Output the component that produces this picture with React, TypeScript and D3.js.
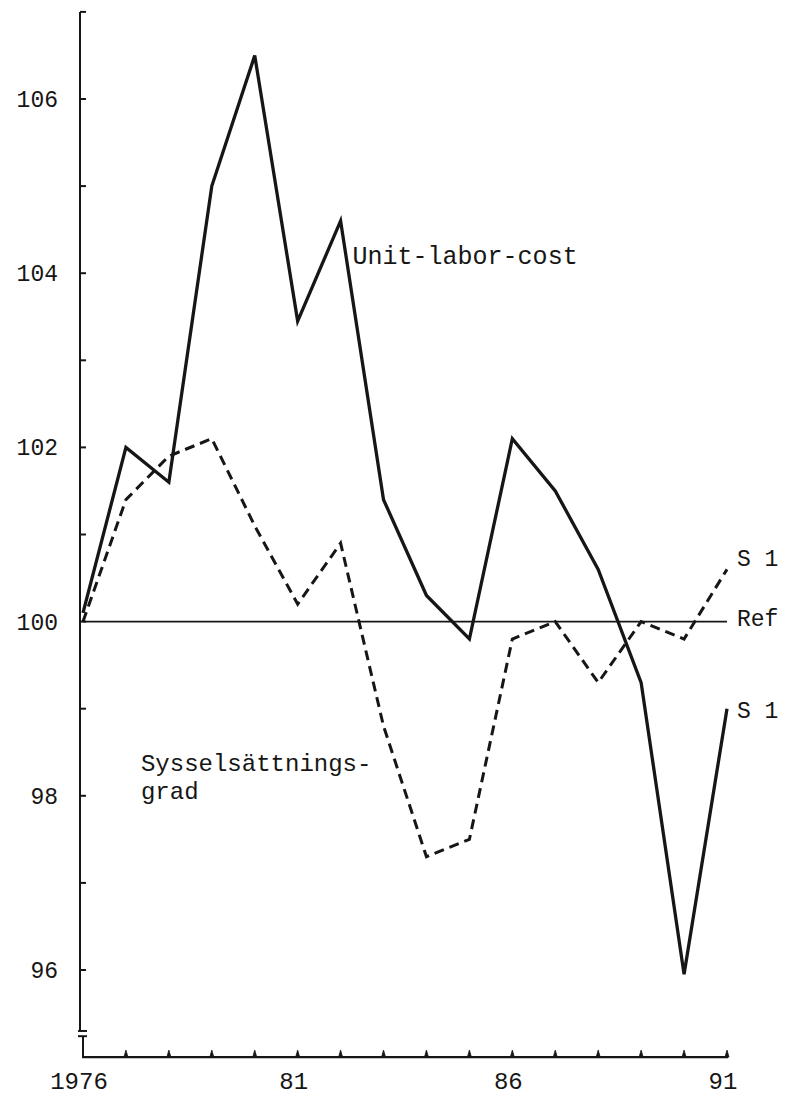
import React from "react";
import * as d3 from "d3";

const years = [1976, 1977, 1978, 1979, 1980, 1981, 1982, 1983, 1984, 1985, 1986, 1987, 1988, 1989, 1990, 1991];
const unitLaborCost = [100.1, 102.0, 101.6, 105.0, 106.5, 103.45, 104.6, 101.4, 100.3, 99.8, 102.1, 101.5, 100.6, 99.3, 95.95, 99.0];
const sysselsattningsgrad = [100.0, 101.4, 101.9, 102.1, 101.1, 100.2, 100.9, 98.8, 97.3, 97.5, 99.8, 100.0, 99.3, 100.0, 99.8, 100.6];
const yTickValues = [96, 97, 98, 99, 100, 101, 102, 103, 104, 105, 106, 107];
const yTickLabels = [96, 98, 100, 102, 104, 106];
const xTickLabels: [number, string][] = [[1976, "1976"], [1981, "81"], [1986, "86"], [1991, "91"]];

const W = 785;
const H = 1096;
const FONT = "'Liberation Mono', 'DejaVu Sans Mono', monospace";
const INK = "#161616";

export default function App() {
  const x = d3.scaleLinear().domain([1976, 1991]).range([83, 727]);
  const y = d3.scaleLinear().domain([96, 106]).range([970, 99]);

  const line = d3
    .line<number>()
    .x((_, i) => x(years[i]))
    .y((d) => y(d));

  const axisX = x(1976);
  const axisBottom = y(95.0);
  const breakTop = y(95.3);
  const breakBottom = y(95.24);

  return (
    <svg width={W} height={H} style={{ position: "absolute", left: 0, top: 0, background: "#fff" }}>
      <rect x={0} y={0} width={W} height={H} fill="#fff" />
      {/* Y axis with break */}
      <line x1={axisX - 3} y1={y(107)} x2={axisX - 3} y2={breakTop} stroke={INK} strokeWidth={2} />
      <line x1={axisX} y1={breakBottom} x2={axisX} y2={axisBottom} stroke={INK} strokeWidth={2} />
      <line x1={axisX - 5} y1={breakTop} x2={axisX + 4} y2={breakTop} stroke={INK} strokeWidth={2} />
      <line x1={axisX - 5} y1={breakBottom} x2={axisX + 4} y2={breakBottom} stroke={INK} strokeWidth={2} />
      {yTickValues.map((v) => (
        <line key={"yt" + v} x1={axisX - 3} y1={y(v)} x2={axisX + 3} y2={y(v)} stroke={INK} strokeWidth={2} />
      ))}
      {yTickLabels.map((v) => (
        <text key={"yl" + v} x={58} y={y(v)} dy="0.35em" textAnchor="end" fontFamily={FONT} fontSize={23} fill={INK}>
          {v}
        </text>
      ))}
      {/* X axis */}
      <line x1={axisX - 1} y1={axisBottom} x2={x(1991) + 1} y2={axisBottom} stroke={INK} strokeWidth={2.2} />
      {years.slice(1).map((yr) => (
        <path
          key={"xt" + yr}
          d={`M${x(yr) - 2},${axisBottom} L${x(yr)},${axisBottom - 7} L${x(yr) + 2},${axisBottom} Z`}
          fill={INK}
          stroke={INK}
          strokeWidth={0.8}
        />
      ))}
      {xTickLabels.map(([v, s]) => (
        <text key={"xl" + v} x={x(v) - 4} y={1089} textAnchor="middle" fontFamily={FONT} fontSize={24} fill={INK}>
          {s}
        </text>
      ))}
      {/* Reference line */}
      <line x1={axisX} y1={y(100)} x2={x(1991)} y2={y(100)} stroke={INK} strokeWidth={1.6} />
      {/* Series */}
      <path d={line(sysselsattningsgrad) || ""} fill="none" stroke={INK} strokeWidth={3} strokeDasharray="10,6" />
      <path d={line(unitLaborCost) || ""} fill="none" stroke={INK} strokeWidth={3.3} strokeLinejoin="miter" />
      {/* Labels */}
      <text x={x(1982) + 12} y={y(104.1)} fontFamily={FONT} fontSize={25} fill={INK}>
        Unit-labor-cost
      </text>
      <text x={x(1977.35)} y={y(98.25) - 3} fontFamily={FONT} fontSize={24} fill={INK}>
        Sysselsättnings-
      </text>
      <text x={x(1977.35)} y={y(98.25) + 25} fontFamily={FONT} fontSize={24} fill={INK}>
        grad
      </text>
      <text x={x(1991) + 10} y={y(100.64)} fontFamily={FONT} fontSize={23} fill={INK}>
        S 1
      </text>
      <text x={x(1991) + 10} y={y(100) + 4} fontFamily={FONT} fontSize={23} fill={INK}>
        Ref
      </text>
      <text x={x(1991) + 10} y={y(99.0) + 9} fontFamily={FONT} fontSize={23} fill={INK}>
        S 1
      </text>
    </svg>
  );
}
